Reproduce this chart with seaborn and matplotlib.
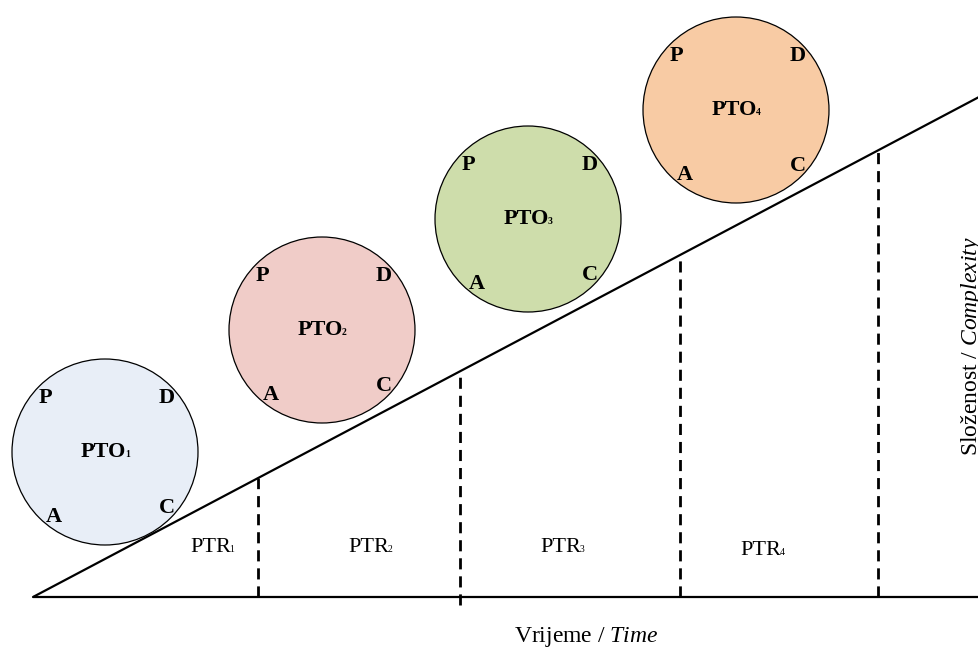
import matplotlib.pyplot as plt
from matplotlib.patches import Circle
import seaborn as sns

# diagram data (pixel-like coordinates, y grows downward)
phase_ids = ['1', '2', '3', '4']
circle_x = [105, 322, 528, 736]
circle_y = [452, 330, 219, 110]
circle_colors = ['#E8EEF7', '#F0CCC8', '#CEDDAB', '#F8CBA4']
cycle_letters = ['P', 'D', 'A', 'C']
divider_x = [258, 460, 680, 878]
ptr_x = [190, 348, 540, 740]
ptr_y = [552, 552, 552, 555]

sns.set_theme(style='white')
plt.rcParams['font.family'] = ['Liberation Serif', 'DejaVu Serif']
plt.rcParams['text.color'] = 'black'
plt.rcParams['mathtext.fontset'] = 'custom'
plt.rcParams['mathtext.rm'] = 'Liberation Serif'
plt.rcParams['mathtext.it'] = 'Liberation Serif:italic'

fig = plt.figure(figsize=(9.79, 6.53), dpi=100)
ax = fig.add_axes([0, 0, 1, 1])
ax.set_xlim(0, 979)
ax.set_ylim(653, 0)
ax.axis('off')
renderer = fig.canvas.get_renderer()


def with_sub(x, y, main, sub, size, weight='normal', ha='left'):
    # main text followed by a small digit sitting on the baseline
    t = ax.text(x, y, main, fontsize=size, fontweight=weight, ha=ha, va='baseline')
    bb = t.get_window_extent(renderer=renderer)
    x_end = ax.transData.inverted().transform((bb.x1, bb.y0))[0]
    ax.text(x_end - 1.5, y, sub, fontsize=7, fontweight=weight, ha='left', va='baseline')


# axes of the diagram
x0, y0 = 33, 597
x1, y1 = 979, 97
slope = (y1 - y0) / (x1 - x0)
ax.plot([x0, 979], [y0, y0], color='black', lw=1.6, solid_capstyle='butt')
ax.plot([x0, x1], [y0, y1], color='black', lw=1.6)

# dashed dividers up to the diagonal
for i, dx in enumerate(divider_x):
    top = y0 + slope * (dx - x0)
    bottom = 605 if i == 1 else y0
    ax.plot([dx, dx], [bottom, top], color='black', lw=2, linestyle=(0, (4, 2.5)))

# PTR labels
for pid, px, py in zip(phase_ids, ptr_x, ptr_y):
    with_sub(px, py, 'PTR', pid, 16)

# PDCA circles
offsets = {'P': (-60, -54), 'D': (62, -54), 'A': (-51, 65), 'C': (62, 56)}
for pid, cx, cy, col in zip(phase_ids, circle_x, circle_y, circle_colors):
    ax.add_patch(Circle((cx, cy), 93, facecolor=col, edgecolor='black', lw=0.9))
    for let in cycle_letters:
        ox, oy = offsets[let]
        ax.text(cx + ox, cy + oy, let, fontsize=16, fontweight='bold',
                ha='center', va='center')
    with_sub(cx - 24, cy + 5, 'PTO', pid, 16, weight='bold')

# axis titles
ax.text(586, 642, r'Vrijeme / $\mathit{Time}$', fontsize=17, ha='center', va='baseline')
ax.text(977, 346, r'Složenost / $\mathit{Complexity}$', fontsize=17, rotation=90,
        rotation_mode='anchor', ha='center', va='baseline')

fig.savefig('out.png', dpi=100)
